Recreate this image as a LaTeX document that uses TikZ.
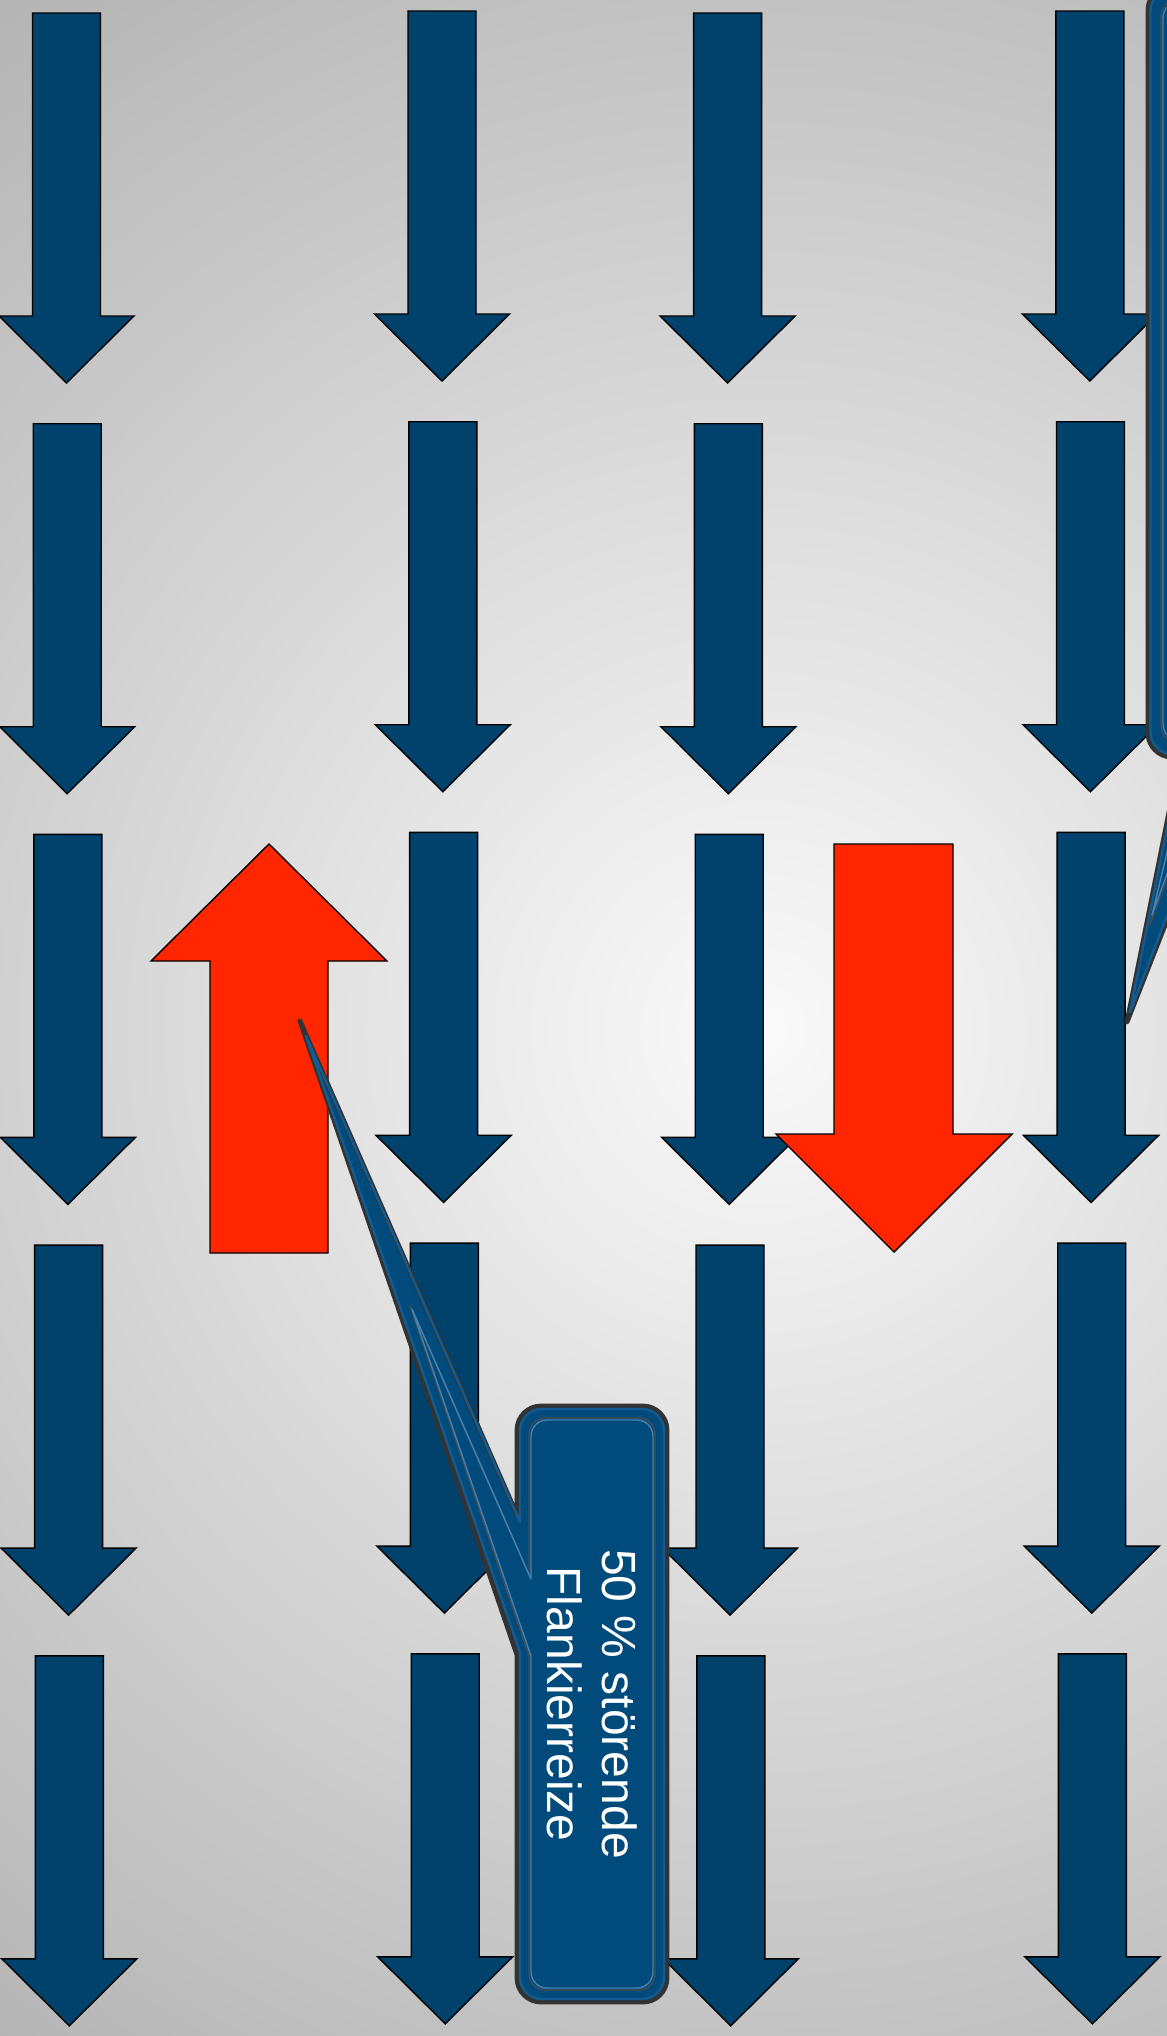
\documentclass[tikz,border=0pt]{standalone}
\usepackage{fontspec}
\setmainfont{Liberation Sans}
\definecolor{arrowblue}{RGB}{0,66,108}
\definecolor{calloutblue}{RGB}{0,74,124}
\definecolor{bevelblue}{RGB}{18,92,145}
\definecolor{bevellight}{RGB}{70,130,180}
\definecolor{arrowred}{RGB}{255,38,0}
\definecolor{bggray}{RGB}{178,178,178}
\definecolor{bgcenter}{RGB}{250,250,250}
\tikzset{
  bluearrow/.style={fill=arrowblue, draw=black, line width=0.7pt, line join=miter},
  redarrow/.style={fill=arrowred, draw=black, line width=0.7pt, line join=miter},
  dnarrow/.pic={\path[pic actions] (-34,0) -- (34,0) -- (34,303) -- (67.5,303) -- (0,370) -- (-67.5,303) -- (-34,303) -- cycle;},
  calloutouter/.style={fill=calloutblue, draw=black!80, line width=2.4pt, line join=round},
  calloutbevel/.style={draw=bevelblue, line width=1.2pt, line join=round},
  calloutinner/.style={draw=bevellight, line width=0.7pt, line join=round},
  calloutdark/.style={draw=black!70, line width=0.6pt, line join=round},
  labeltext/.style={text=white, align=center, font=\fontsize{24pt}{27.5pt}\selectfont, inner sep=0pt}
}
\begin{document}
\begin{tikzpicture}[x=0.5pt,y=-0.5pt]
\useasboundingbox (0,0) rectangle (1167,2036);
\clip (0,0) rectangle (1167,2036);
% background
\fill[bggray] (0,0) rectangle (1167,2036);
\shade[inner color=bgcenter, outer color=bggray] (760,1030) circle[radius=660pt];
% blue arrows
\foreach \i in {0,...,4}{
  \pic[bluearrow] at ({66.5+0.7*\i},{13+410.7*\i}) {dnarrow};
  \pic[bluearrow] at ({442+0.8*\i},{11+410.7*\i}) {dnarrow};
  \pic[bluearrow] at ({727.6+0.8*\i},{13+410.7*\i}) {dnarrow};
  \pic[bluearrow] at ({1089.8+0.65*\i},{11+410.7*\i}) {dnarrow};
}
% red arrows
\path[redarrow] (269,844) -- (387,961) -- (328,961) -- (328,1253) -- (210,1253) -- (210,961) -- (151,961) -- cycle;
\path[redarrow] (834,844) -- (953,844) -- (953,1134) -- (1012,1134) -- (894,1252) -- (776,1134) -- (834,1134) -- cycle;
% top-right callout
\path[calloutouter] (1148,400) [rounded corners=12pt] -- (1148,-14) -- (1450,-14) -- (1450,757) -- (1300,757) [sharp corners] -- (1231,757) -- (1127,1022) -- (1180,757) [rounded corners=12pt] -- (1148,757) -- (1148,700) [sharp corners] -- cycle;
\path[calloutbevel] (1150.5,400) [rounded corners=11pt] -- (1150.5,-11) -- (1450,-11) -- (1450,754) -- (1300,754) [sharp corners] -- (1229,754) -- (1130,1012) -- (1182,754) [rounded corners=11pt] -- (1150.5,754) -- (1150.5,700) [sharp corners] -- cycle;
\path[calloutdark] (1161,400) [rounded corners=8pt] -- (1161,0) -- (1450,0) -- (1450,742) -- (1300,742) [sharp corners] -- (1218,742) -- (1150,925) -- (1192,742) [rounded corners=8pt] -- (1161,742) -- (1161,700) [sharp corners] -- cycle;
\path[calloutinner] (1163,400) [rounded corners=8pt] -- (1163,2) -- (1450,2) -- (1450,740) -- (1300,740) [sharp corners] -- (1216,740) -- (1152,915) -- (1194,740) [rounded corners=8pt] -- (1163,740) -- (1163,700) [sharp corners] -- cycle;
% bottom callout
\path[calloutouter] (517,1515) -- (517,1480) [rounded corners=12pt] -- (517,1406) -- (667,1406) -- (667,2002) -- (517,2002) -- (517,1700) [sharp corners] -- (517,1655) -- (300,1021) -- cycle;
\path[calloutbevel] (520,1522) -- (520,1480) [rounded corners=11pt] -- (520,1409) -- (664,1409) -- (664,1999) -- (520,1999) -- (520,1700) [sharp corners] -- (520,1652) -- (306,1036) -- cycle;
\path[calloutdark] (529,1575) -- (529,1480) [rounded corners=8pt] -- (529,1418) -- (655,1418) -- (655,1990) -- (529,1990) -- (529,1700) [sharp corners] -- (529,1656) -- (410,1306) -- cycle;
\path[calloutinner] (531,1579) -- (531,1480) [rounded corners=8pt] -- (531,1420) -- (653,1420) -- (653,1988) -- (531,1988) -- (531,1700) [sharp corners] -- (531,1656) -- (412,1309) -- cycle;
\node[labeltext, rotate=-90] (label) at (592,1704) {50 \% störende\\Flankierreize};
\end{tikzpicture}
\end{document}
